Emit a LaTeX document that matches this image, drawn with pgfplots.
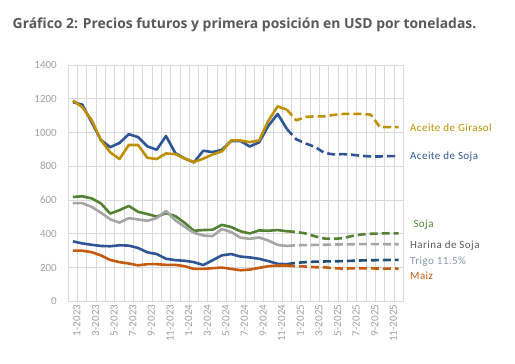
\documentclass[border=0pt]{standalone}
\usepackage{fontspec}
\setmainfont{Carlito}
\newfontfamily\titlefont{Open Sans}
\usepackage{pgfplots}
\pgfplotsset{compat=1.18}
\usetikzlibrary{calc}
\definecolor{gridc}{HTML}{D9D9D9}
\definecolor{tickc}{HTML}{A0A0A0}
\definecolor{csoja}{HTML}{2F5597}
\definecolor{cgir}{HTML}{BF9000}
\definecolor{cgreen}{HTML}{548235}
\definecolor{cgrey}{HTML}{A5A5A5}
\definecolor{ctrigo}{HTML}{2F5597}
\definecolor{ctrigod}{HTML}{1F4E79}
\definecolor{cmaiz}{HTML}{C55A11}
\definecolor{ctitle}{HTML}{595959}
\definecolor{ltrigo}{HTML}{8497B0}
\begin{document}
\begin{tikzpicture}[x=1pt,y=1pt]
\begin{axis}[
  width=335pt, height=236.3pt, scale only axis,
  xmin=-0.5, xmax=35.5, ymin=0, ymax=1400,
  ytick={0,200,...,1400},
  xtick={0,2,...,34},
  xticklabels={1-2023,3-2023,5-2023,7-2023,9-2023,11-2023,1-2024,3-2024,5-2024,7-2024,9-2024,11-2024,1-2025,3-2025,5-2025,7-2025,9-2025,11-2025},
  minor xtick={-0.5,0.5,...,35.5},
  xminorgrids=true, ymajorgrids=true, xmajorgrids=false,
  grid style={draw=gridc, line width=0.9pt},
  minor grid style={draw=gridc, line width=0.9pt},
  axis line style={draw=gridc, line width=0.9pt},
  major tick length=0pt, minor tick length=0pt,
  tick style={draw=none},
  /pgf/number format/assume math mode=true,
  /pgf/number format/1000 sep={},
  ticklabel style={font=\fontsize{11}{12}\selectfont, text=tickc},
  yticklabel style={anchor=east, xshift=-8pt},
  xticklabel style={rotate=90, anchor=east, yshift=-4pt},
  clip=false,
]
\coordinate (O) at (rel axis cs:0,0);
% Aceite de Soja
\addplot[csoja, line width=2.6pt, line join=round] coordinates {(0,1180)(1,1165)(2,1062)(3,956)(4,913)(5,938)(6,990)(7,973)(8,918)(9,898)(10,979)(11,878)(12,846)(13,823)(14,892)(15,884)(16,897)(17,950)(18,950)(19,917)(20,942)(21,1040)(22,1110)(23,1020)};
\addplot[csoja, line width=2.6pt, line join=round, dash pattern=on 8pt off 4pt] coordinates {(23,1020)(24,960)(25,935)(26,915)(27,880)(28,870)(29,872)(30,868)(31,862)(32,858)(33,858)(34,860)(35,860)};
% Aceite de Girasol
\addplot[cgir, line width=2.6pt, line join=round] coordinates {(0,1190)(1,1150)(2,1075)(3,955)(4,883)(5,843)(6,926)(7,926)(8,850)(9,843)(10,876)(11,872)(12,846)(13,825)(14,845)(15,870)(16,888)(17,953)(18,953)(19,943)(20,953)(21,1070)(22,1155)(23,1135)};
\addplot[cgir, line width=2.6pt, line join=round, dash pattern=on 8pt off 4pt] coordinates {(23,1135)(24,1072)(25,1092)(26,1096)(27,1096)(28,1104)(29,1110)(30,1110)(31,1110)(32,1106)(33,1032)(34,1032)(35,1032)};
% Soja
\addplot[cgreen, line width=2.6pt, line join=round] coordinates {(0,618)(1,622)(2,610)(3,580)(4,520)(5,540)(6,565)(7,530)(8,517)(9,502)(10,522)(11,505)(12,465)(13,418)(14,422)(15,424)(16,453)(17,440)(18,415)(19,402)(20,420)(21,418)(22,422)(23,415)};
\addplot[cgreen, line width=2.6pt, line join=round, dash pattern=on 8pt off 4pt] coordinates {(23,415)(24,411)(25,402)(26,385)(27,372)(28,370)(29,374)(30,387)(31,396)(32,400)(33,402)(34,403)(35,402)};
% Harina de Soja
\addplot[cgrey, line width=2.6pt, line join=round] coordinates {(0,582)(1,582)(2,560)(3,525)(4,486)(5,466)(6,493)(7,485)(8,477)(9,493)(10,535)(11,480)(12,442)(13,406)(14,390)(15,386)(16,428)(17,410)(18,377)(19,370)(20,378)(21,360)(22,334)(23,328)};
\addplot[cgrey, line width=2.6pt, line join=round, dash pattern=on 8pt off 4pt] coordinates {(23,328)(24,332)(25,333)(26,334)(27,335)(28,336)(29,337)(30,338)(31,339)(32,339)(33,339)(34,338)(35,338)};
% Trigo
\addplot[ctrigo, line width=2.6pt, line join=round] coordinates {(0,355)(1,343)(2,335)(3,328)(4,326)(5,332)(6,330)(7,316)(8,290)(9,280)(10,252)(11,244)(12,240)(13,232)(14,215)(15,243)(16,272)(17,280)(18,265)(19,260)(20,252)(21,238)(22,222)(23,220)};
\addplot[ctrigod, line width=2.6pt, line join=round, dash pattern=on 8pt off 4pt] coordinates {(23,220)(24,228)(25,232)(26,235)(27,236)(28,237)(29,238)(30,240)(31,242)(32,243)(33,244)(34,245)(35,245)};
% Maiz
\addplot[cmaiz, line width=2.6pt, line join=round] coordinates {(0,300)(1,300)(2,291)(3,272)(4,245)(5,232)(6,224)(7,213)(8,220)(9,220)(10,216)(11,216)(12,208)(13,192)(14,192)(15,196)(16,200)(17,192)(18,184)(19,188)(20,198)(21,208)(22,212)(23,212)};
\addplot[cmaiz, line width=2.6pt, line join=round, dash pattern=on 8pt off 4pt] coordinates {(23,212)(24,208)(25,206)(26,202)(27,202)(28,196)(29,194)(30,195)(31,195)(32,195)(33,194)(34,194)(35,194)};
\end{axis}
\coordinate (B) at ($(O)+(-68.3,-62.7)$);
\pgfresetboundingbox
\useasboundingbox (B) rectangle ($(B)+(515,364)$);
\begin{scope}[shift={(B)}]
\node[anchor=base west, inner sep=0pt, text=ctitle] at (12.5,335) {\titlefont\bfseries\fontsize{13.9}{15}\selectfont Gráfico 2: Precios futuros y primera posición en USD por toneladas.};
\begin{scope}[every node/.style={anchor=base west, inner sep=0pt, font=\fontsize{11}{12}\selectfont\addfontfeature{LetterSpace=4}}]
\node[text=cgir] at (410,232) {Aceite de Girasol};
\node[text=csoja] at (410,204) {Aceite de Soja};
\node[text=cgreen] at (413.3,136.7) {Soja};
\node[text=ctitle] at (410,115.7) {Harina de Soja};
\node[text=ltrigo] at (410,99) {Trigo 11.5\%};
\node[text=cmaiz] at (410,84) {Maiz};
\end{scope}
\end{scope}
\end{tikzpicture}
\end{document}
